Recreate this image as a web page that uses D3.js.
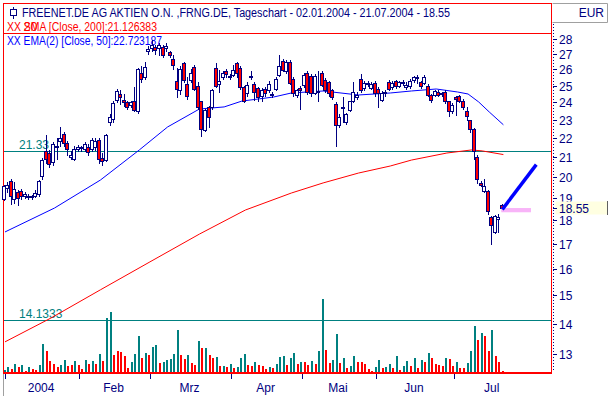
<!DOCTYPE html>
<html><head><meta charset="utf-8">
<script src="https://cdn.jsdelivr.net/npm/d3@7"></script>
<style>html,body{margin:0;padding:0;background:#fff;}svg{display:block;font-family:Arial,"Liberation Sans",sans-serif;}</style>
</head><body><svg id="c" width="610" height="396"></svg>
<script>
// ---------- data ----------
const firstDay = "2004-01-02", lastDay = "2004-07-21", monthEnd = "2004-07-31";
const holidays = ["2004-04-09","2004-04-12"];
const opens = [18.95,19.5,19.8,18.95,19.3,19.35,19.1,19.1,19.05,19.1,19.2,20.05,21.3,21.2,20.75,21.5,21.85,22.2,21.75,21.0,20.9,21.4,21.5,21.4,21.5,21.4,21.5,21.9,20.95,20.85,22.85,23.05,24.15,24.5,24.15,24.0,23.85,24.1,23.5,25.8,25.5,27.2,27.4,27.45,27.4,27.45,27.4,27.1,26.7,25.3,24.75,26.4,25.1,25.35,26.15,25.0,24.05,22.45,23.7,23.7,26.1,25.1,25.5,25.9,25.6,25.65,26.4,26.1,24.9,24.55,25.6,25.1,24.85,24.35,24.8,24.7,24.5,24.8,25.65,26.55,25.9,26.5,25.4,24.45,24.85,25.05,25.8,25.6,24.55,24.6,25.8,25.35,25.2,24.75,23.9,22.7,23.75,22.85,23.55,24.1,24.3,25.4,24.85,25.15,24.85,25.15,24.8,24.15,24.6,25.2,24.9,25.25,25.0,25.2,24.9,24.95,25.35,25.5,25.2,25.15,25.0,24.45,24.45,24.6,24.55,24.6,24.05,23.5,24.3,24.35,24.1,23.5,22.99,22.5,21.0,19.7,19.35,19.35,18.15,17.5,18.05,18.7];
const highs = [19.6,19.75,19.9,19.75,19.4,19.45,19.3,19.2,19.15,19.4,19.85,20.95,22.15,21.35,21.8,22.0,22.6,22.3,21.85,21.3,21.55,21.65,21.6,21.8,21.7,22.0,22.0,22.0,21.2,22.2,23.3,24.1,24.8,24.7,24.5,24.1,24.1,24.9,26.1,26.2,26.5,27.5,27.9,27.6,27.75,27.6,27.7,27.2,26.9,26.1,26.2,26.5,25.5,26.0,26.3,25.2,24.1,23.6,23.8,24.8,26.4,25.96,25.9,26.0,25.7,26.3,26.45,26.2,25.0,25.2,25.9,25.2,24.9,24.85,24.9,25.3,24.6,25.5,26.9,26.7,26.6,26.6,25.5,24.8,25.0,25.75,25.9,25.7,25.7,25.9,25.9,25.45,25.3,24.8,24.0,23.3,24.3,23.4,24.1,25.2,24.6,25.7,25.3,25.3,25.2,25.25,24.9,24.65,24.7,25.35,25.3,25.35,25.3,25.35,25.2,25.4,25.6,25.65,25.3,25.65,25.1,24.5,24.7,24.7,24.6,24.7,24.1,23.95,24.4,24.45,24.2,23.75,23.0,22.55,21.1,19.8,19.9,19.4,18.2,18.25,18.3,18.75];
const lows = [18.9,19.3,18.75,18.8,18.7,18.95,19.0,18.95,18.95,19.05,19.1,19.9,20.7,20.5,20.6,20.9,21.6,21.6,21.1,20.9,20.85,21.3,21.3,21.3,21.1,21.3,21.35,20.7,20.6,20.8,22.7,22.9,24.0,23.9,23.8,23.6,23.7,23.5,23.4,25.2,25.4,27.0,27.2,27.0,26.9,26.8,27.2,26.8,26.0,24.3,24.5,25.2,24.2,25.2,24.75,23.6,22.1,22.4,22.6,23.6,24.9,24.6,25.4,25.5,25.4,25.6,25.5,24.8,24.0,24.4,25.4,24.15,24.1,24.1,24.4,24.6,24.3,24.7,25.6,25.9,25.8,25.1,24.4,24.3,23.6,24.9,24.5,24.4,24.5,24.05,24.95,24.6,24.4,24.2,21.6,22.6,22.9,22.75,23.5,24.0,24.2,24.6,24.7,25.0,24.8,24.4,23.75,24.05,24.4,24.7,24.8,24.85,24.9,25.05,24.8,24.85,25.2,25.15,24.85,25.1,24.35,24.0,24.35,24.35,24.4,23.95,23.2,23.4,23.25,24.0,23.6,22.99,22.3,20.9,19.7,19.55,19.3,18.3,17.0,17.45,17.5,18.5];
const closes = [19.55,19.6,19.1,19.45,19.0,19.1,19.2,19.05,19.1,19.25,19.8,20.85,20.9,20.65,21.7,21.6,22.0,21.75,21.4,21.1,21.4,21.5,21.45,21.7,21.25,21.9,21.85,20.9,20.8,22.15,23.15,23.95,24.65,24.3,24.0,23.7,24.0,23.55,26.05,25.4,26.15,27.3,27.6,27.25,27.6,26.95,27.55,26.95,26.3,24.8,26.05,25.35,24.4,25.8,24.8,23.75,22.5,23.55,23.15,24.7,25.0,25.3,25.8,25.7,25.55,25.96,25.8,24.9,24.1,25.05,25.55,24.6,24.3,24.75,24.55,25.1,24.45,25.4,26.2,25.96,26.5,25.15,24.55,24.7,24.7,25.65,24.6,24.55,25.6,24.65,25.05,24.75,24.55,24.3,22.7,23.15,23.7,23.3,24.05,24.6,24.45,24.75,25.15,25.12,25.1,24.55,24.55,24.55,24.55,24.8,25.15,24.95,25.2,25.15,25.05,25.25,25.55,25.45,24.95,25.55,24.45,24.15,24.65,24.45,24.5,24.05,23.5,23.85,24.2,24.1,23.7,23.2,22.5,21.3,19.9,19.6,19.55,18.4,17.8,18.2,18.15,18.55];
// volume in thousand shares
const volumes = [20,47,30,80,53,70,13,47,30,20,70,280,210,110,80,53,70,120,63,70,110,70,30,120,80,110,80,180,110,543,600,170,210,200,160,40,100,180,360,140,193,170,250,270,90,100,120,130,180,420,170,130,170,90,70,310,240,240,170,140,150,60,60,50,80,40,50,140,180,70,60,100,70,60,30,50,40,80,153,160,70,140,190,80,100,100,70,110,80,210,730,220,90,120,380,90,140,40,60,160,100,100,80,30,10,50,120,40,50,80,40,160,20,60,110,60,140,40,120,100,190,140,80,70,60,140,130,60,100,40,40,90,210,460,320,390,360,210,420,160,100,10];
const volUp = [1,1,0,1,0,1,0,1,0,0,1,1,0,0,0,0,1,1,0,0,1,0,0,1,0,1,0,1,0,1,1,0,0,0,0,0,1,1,1,0,1,0,1,1,0,1,1,1,1,1,0,0,1,0,0,1,0,1,0,0,1,0,1,0,1,0,1,1,1,0,0,1,0,0,0,1,0,1,1,1,0,1,1,0,1,0,0,1,0,1,1,0,0,1,1,0,1,0,1,1,0,0,0,0,0,1,1,0,1,1,0,1,0,1,1,0,1,0,1,0,1,0,0,0,0,1,0,0,1,0,0,1,1,1,0,1,0,0,1,0,0,0];
// moving averages (bar index, value)
const emaIdx  = [0,14,27,38,46,55,62,67,76,81,90,100,109,115,122,128,131,134,137,141];
const emaVals = [17.5,18.55,19.86,21.37,22.6,23.61,23.73,24.07,24.31,24.55,24.67,24.43,24.55,24.67,24.79,24.61,24.49,24.02,23.44,22.72];
const smaIdx  = [0,13,27,41,55,68,81,90,100,109,115,125,132,135,141];
const smaVals = [13.39,14.19,15.2,16.27,17.41,18.46,19.24,19.72,20.2,20.55,20.85,21.21,21.37,21.32,21.13];
const priceTicks = [13,14,15,16,17,18,19,20,21,22,23,24,25,26,27,28];
const monthLabels = ["2004","Feb","Mrz","Apr","Mai","Jun","Jul"];
const hLineVals = [21.33, 14.1333];
const hLineLabels = ["21.33","14.1333"];
const lastPrice = 18.55;
const trendFrom = [141, 18.55], trendTo = [150, 20.55];
const bandFrom = 140.4, bandTo = 148.8, bandHi = 18.55, bandLo = 18.36;
const titleText = "FREENET.DE AG AKTIEN O.N. ,FRNG.DE, Tageschart - 02.01.2004 - 21.07.2004 - 18.55";
const smaText = "XX SMA [Close, 200]:21.126383";
const emaText = "XX EMA(2) [Close, 50]:22.723187";

// ---------- trading days ----------
function tradingDays(a, b) {
  const out = []; const d = new Date(a + "T12:00:00Z"); const e = new Date(b + "T12:00:00Z");
  while (d <= e) { const s = d.toISOString().slice(0,10); const w = d.getUTCDay();
    if (w !== 0 && w !== 6 && !holidays.includes(s)) out.push(s); d.setUTCDate(d.getUTCDate()+1); }
  return out;
}
const days = tradingDays(firstDay, lastDay);
const daysFull = tradingDays(firstDay, monthEnd);
const monthStarts = [];
daysFull.forEach((s,i)=>{ if (i===0 || s.slice(5,7)!==daysFull[i-1].slice(5,7)) monthStarts.push(i); });
monthStarts.push(daysFull.length);

// ---------- scales ----------
const NAVY = "#000080", RED = "#ff0000", TEAL = "#008080", BLUE = "#0000ff";
const x = d3.scaleLinear().domain([0, 141]).range([5, 503.4]);
const y = d3.scaleLog().domain([13, 28]).range([354, 39]);
const yv = d3.scaleLinear().domain([0, 800]).range([372, 292]);
const svg = d3.select("#c");
const px = v => Math.floor(x(v));

// frame
svg.append("rect").attr("x",3.5).attr("y",3.5).attr("width",548).attr("height",369).attr("fill","none").attr("stroke",RED);
svg.append("line").attr("x1",3).attr("x2",552).attr("y1",33.5).attr("y2",33.5).attr("stroke",RED);

// header
const hd = svg.append("g");
hd.append("line").attr("x1",13.5).attr("x2",13.5).attr("y1",7).attr("y2",19).attr("stroke",NAVY);
hd.append("rect").attr("x",10.5).attr("y",9.5).attr("width",6).attr("height",6).attr("fill","#fff").attr("stroke",NAVY);
hd.append("text").attr("x",22).attr("y",17).attr("font-size",12.5).attr("fill",NAVY).attr("textLength",428).attr("lengthAdjust","spacingAndGlyphs").text(titleText);
hd.append("text").attr("x",7).attr("y",30.5).attr("font-size",12.5).attr("fill",RED).attr("textLength",150).attr("lengthAdjust","spacingAndGlyphs").text(smaText);
hd.append("text").attr("x",23.5).attr("y",30.5).attr("font-size",12.5).attr("fill",RED).text("20");
hd.append("text").attr("x",7).attr("y",44.5).attr("font-size",12.5).attr("fill",BLUE).attr("textLength",155).attr("lengthAdjust","spacingAndGlyphs").text(emaText);

// horizontal lines
hLineVals.forEach((v,k)=>{
  const yy = Math.round(y(v)) + 0.5;
  svg.append("line").attr("x1",4).attr("x2",551).attr("y1",yy).attr("y2",yy).attr("stroke",TEAL);
  svg.append("text").attr("x",19).attr("y",yy-3).attr("font-size",12).attr("fill",TEAL).text(hLineLabels[k]);
});

// volume
svg.append("g").selectAll("rect").data(volumes).join("rect")
  .attr("x",(d,i)=>px(i)-1).attr("width",2)
  .attr("y",d=>Math.round(yv(d))).attr("height",d=>372-Math.round(yv(d)))
  .attr("fill",(d,i)=>volUp[i]?TEAL:RED);

// moving averages
const lineGen = d3.line().x(d=>x(d[0])).y(d=>y(d[1]));
svg.append("path").datum(smaIdx.map((d,i)=>[d,smaVals[i]])).attr("d",lineGen).attr("fill","none").attr("stroke",RED).attr("stroke-width",1);
svg.append("path").datum(emaIdx.map((d,i)=>[d,emaVals[i]])).attr("d",lineGen).attr("fill","none").attr("stroke",BLUE).attr("stroke-width",1);

// candles
const cg = svg.append("g");
days.forEach((d,i)=>{
  const cx = px(i);
  cg.append("line").attr("x1",cx-0.5).attr("x2",cx-0.5).attr("y1",Math.round(y(highs[i]))).attr("y2",Math.round(y(lows[i]))+1).attr("stroke",NAVY);
  const top = Math.round(y(Math.max(opens[i],closes[i]))), bot = Math.round(y(Math.min(opens[i],closes[i])));
  cg.append("rect").attr("x",cx-2.5).attr("y",top+0.5).attr("width",3).attr("height",Math.max(1,bot-top))
    .attr("fill",closes[i]>=opens[i]?"#fff":RED).attr("stroke",NAVY);
});

// annotations
svg.append("rect").attr("x",x(bandFrom)).attr("width",x(bandTo)-x(bandFrom)).attr("y",y(bandHi)).attr("height",y(bandLo)-y(bandHi)).attr("fill","#f8b4f8");
svg.append("line").attr("x1",x(trendFrom[0])).attr("y1",y(trendFrom[1])).attr("x2",x(trendTo[0])).attr("y2",y(trendTo[1]))
  .attr("stroke",BLUE).attr("stroke-width",3.5).attr("stroke-linecap","square");

// bottom frame line (2px)
svg.append("rect").attr("x",3).attr("y",372).attr("width",549).attr("height",2).attr("fill",RED);
svg.append("line").attr("x1",3.5).attr("x2",3.5).attr("y1",374).attr("y2",396).attr("stroke","#a0a0a0");

// x axis
const xa = svg.append("g");
monthStarts.slice(0,7).forEach((m,k)=>{
  const tx = Math.round(x(m)) + 0.5;
  xa.append("line").attr("x1",tx).attr("x2",tx).attr("y1",374).attr("y2",379).attr("stroke",NAVY);
  xa.append("text").attr("x",x((m+monthStarts[k+1])/2)-1).attr("y",392).attr("text-anchor","middle").attr("font-size",12).attr("fill",NAVY).text(monthLabels[k]);
});

// right axis
const ra = svg.append("g");
ra.append("line").attr("x1",552.5).attr("x2",607.5).attr("y1",3.5).attr("y2",3.5).attr("stroke","#a0a0a0");
ra.append("line").attr("x1",552.5).attr("x2",607.5).attr("y1",22.5).attr("y2",22.5).attr("stroke","#a0a0a0");
ra.append("line").attr("x1",607.5).attr("x2",607.5).attr("y1",3.5).attr("y2",22.5).attr("stroke","#a0a0a0");
ra.append("text").attr("x",604).attr("y",17).attr("text-anchor","end").attr("font-size",12).attr("fill",NAVY).text("EUR");
ra.append("line").attr("x1",553.5).attr("x2",553.5).attr("y1",24).attr("y2",371).attr("stroke",NAVY).attr("stroke-dasharray","1,2");
priceTicks.forEach(t=>{
  const ty = Math.round(y(t)) + 0.5;
  ra.append("line").attr("x1",553).attr("x2",557).attr("y1",ty).attr("y2",ty).attr("stroke",NAVY);
  ra.append("text").attr("x",559).attr("y",ty+4.5).attr("font-size",12).attr("fill",NAVY).text(t);
});
const ly = Math.round(y(lastPrice));
ra.append("rect").attr("x",555.5).attr("y",ly-6.5).attr("width",52).attr("height",13).attr("fill","#ffffe1").attr("stroke","none");
ra.append("line").attr("x1",607.5).attr("x2",607.5).attr("y1",ly-7).attr("y2",ly+7).attr("stroke","#606060");
ra.append("line").attr("x1",553).attr("x2",557).attr("y1",ly+0.5).attr("y2",ly+0.5).attr("stroke",NAVY);
ra.append("text").attr("x",559).attr("y",ly+5).attr("font-size",12).attr("fill",NAVY).text(lastPrice.toFixed(2));
</script></body></html>
